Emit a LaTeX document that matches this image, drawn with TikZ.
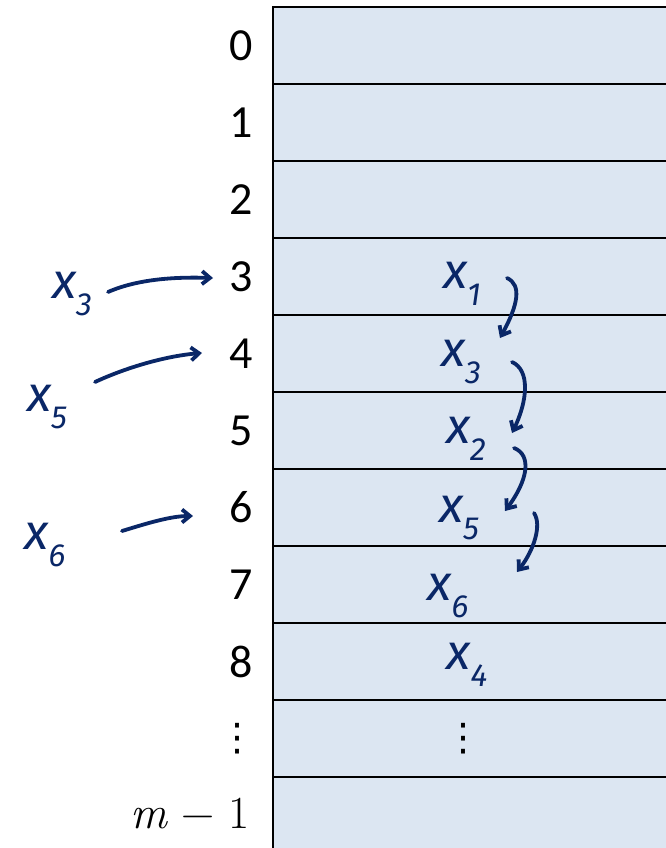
\documentclass[tikz,border=0pt]{standalone}
\usepackage{fontspec}
\setmainfont{Carlito}
\newfontfamily\handfont{Fira Sans}
\newfontfamily\symfont{DejaVu Sans}
\newfontfamily\lmfont{Latin Modern Roman}
\usetikzlibrary{arrows.meta}
\definecolor{cellfill}{HTML}{DCE6F2}
\definecolor{ink}{HTML}{0A2767}
\newcommand\hx[1]{x\raisebox{-0.34em}{\fontsize{32}{32}\selectfont #1}}
\begin{document}
\begin{tikzpicture}[x=1pt,y=-1pt,
 cell/.style={draw=black, line width=2.8pt, fill=cellfill, minimum width=420pt, minimum height=77pt, anchor=north west, inner sep=0pt, outer sep=0pt},
 idx/.style={font=\fontsize{46}{46}\selectfont, inner sep=0pt},
 hand/.style={font=\handfont\itshape\fontsize{50}{50}\selectfont, text=ink, inner sep=0pt},
 harrow/.style={draw=ink, line width=3.8pt, line cap=round, -{Straight Barb[length=8pt,width=13pt,line width=3.8pt]}}
]
\useasboundingbox (0,0) rectangle (666,848);
\clip (0,0) rectangle (666,848);
% cells
\foreach \i in {0,...,10}{
  \node[cell] (c\i) at (273,{7+77*\i}) {};
}
% index labels
\foreach \i in {0,...,8}{
  \node[idx] (l\i) at (241,{45.5+77*\i}) {\i};
}
\node[idx, font=\symfont\fontsize{38}{38}\selectfont] (l9) at (237,738.5) {⋮};
\node[idx, anchor=base east, font=\lmfont\fontsize{46}{46}\selectfont] (l10) at (250,828) {\itshape m\upshape\ − 1};
% handwritten keys outside
\node[hand] (lx3) at (72,294) {\hx{3}};
\node[hand] (lx5) at (47,407) {\hx{5}};
\node[hand] (lx6) at (45,545) {\hx{6}};
% handwritten keys in table
\node[hand] (t1) at (462,284) {\hx{1}};
\node[hand] (t3) at (461,362) {\hx{3}};
\node[hand] (t2) at (466,439) {\hx{2}};
\node[hand] (t5) at (459,518) {\hx{5}};
\node[hand] (t6) at (448,596) {\hx{6}};
\node[hand] (t4) at (467,665) {\hx{4}};
\node[hand, font=\symfont\fontsize{38}{38}\selectfont, text=black] (tdots) at (463,738.5) {⋮};
% hash arrows
\draw[harrow] ([shift={(36,-2)}]lx3.center) .. controls +(32,-14) and +(-33,-1) .. ([shift={(-28,1.5)}]l3.center);
\draw[harrow] ([shift={(48,-25)}]lx5.center) .. controls +(30,-14) and +(-37,3) .. ([shift={(-39,-0.5)}]l4.center);
\draw[harrow] ([shift={(77,-14)}]lx6.center) .. controls +(23,-7) and +(-23,0) .. ([shift={(-48,8.5)}]l6.center);
% chain arrows
\draw[harrow] ([shift={(45,-6)}]t1.center) .. controls +(15,7) and +(18,-33) .. ([shift={(39,-24)}]t3.center);
\draw[harrow] ([shift={(51,0)}]t3.center) .. controls +(18,8) and +(16,-33) .. ([shift={(46,-6)}]t2.center);
\draw[harrow] ([shift={(48,9)}]t2.center) .. controls +(18,7) and +(23,-31) .. ([shift={(46,-7)}]t5.center);
\draw[harrow] ([shift={(75,-5)}]t5.center) .. controls +(8,12) and +(17,-22) .. ([shift={(69,-24)}]t6.center);
\end{tikzpicture}
\end{document}
